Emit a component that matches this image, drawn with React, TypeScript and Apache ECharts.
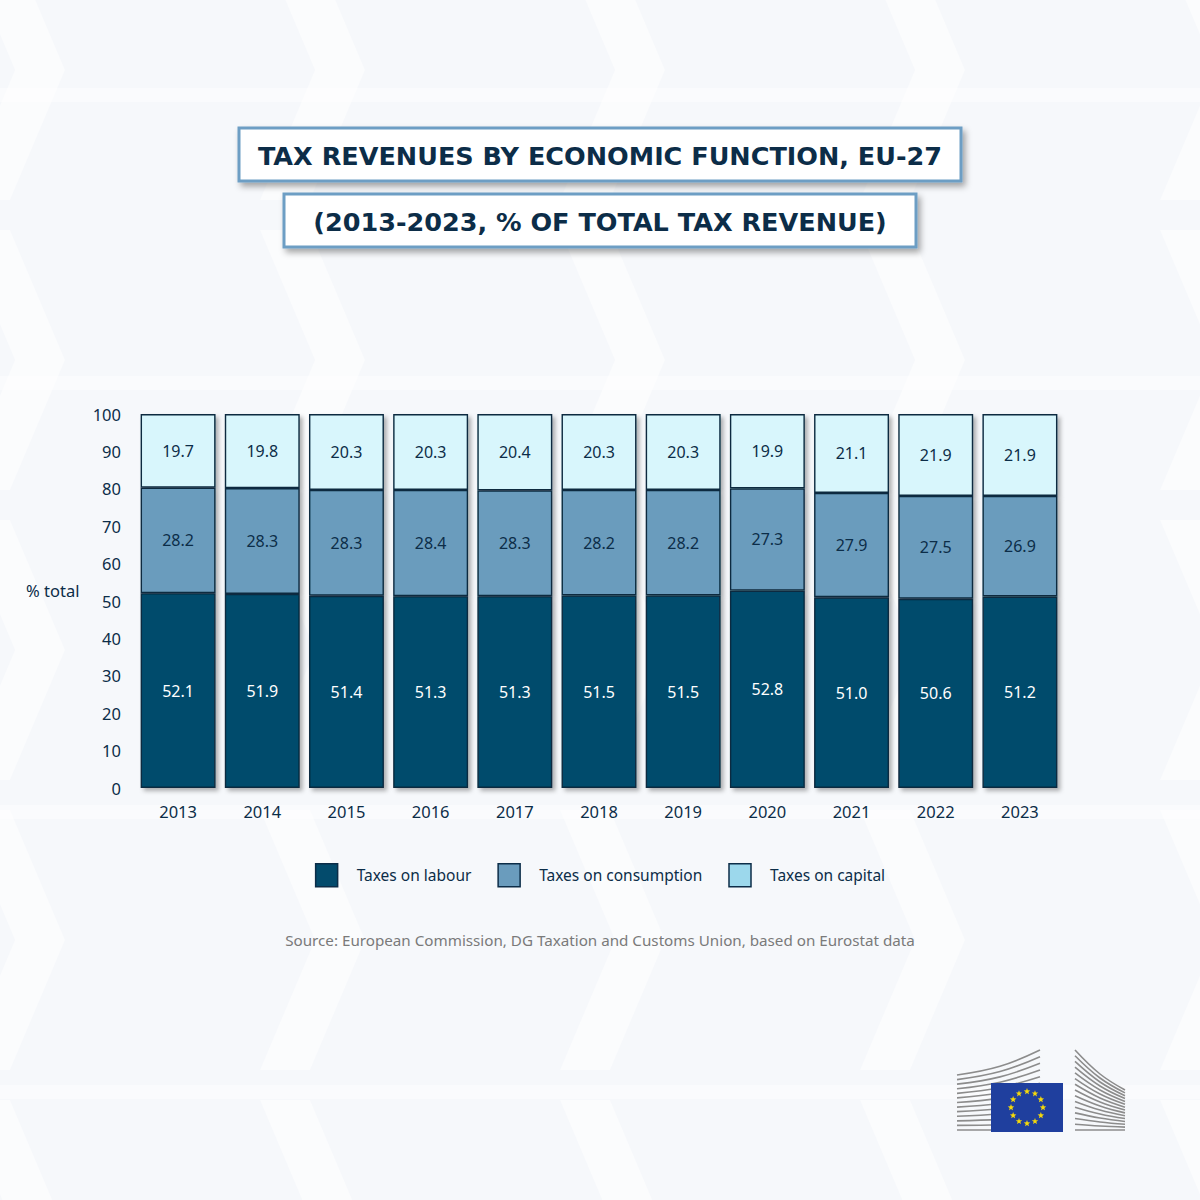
import React, { useEffect, useRef } from "react";
import * as echarts from "echarts";

const years = ["2013", "2014", "2015", "2016", "2017", "2018", "2019", "2020", "2021", "2022", "2023"];
const labour = [52.1, 51.9, 51.4, 51.3, 51.3, 51.5, 51.5, 52.8, 51.0, 50.6, 51.2];
const consumption = [28.2, 28.3, 28.3, 28.4, 28.3, 28.2, 28.2, 27.3, 27.9, 27.5, 26.9];
const capital = [19.7, 19.8, 20.3, 20.3, 20.4, 20.3, 20.3, 19.9, 21.1, 21.9, 21.9];
const seriesNames = ["Taxes on labour", "Taxes on consumption", "Taxes on capital"];
const titleLine1 = "TAX REVENUES BY ECONOMIC FUNCTION, EU-27";
const titleLine2 = "(2013-2023, % OF TOTAL TAX REVENUE)";
const sourceText = "Source: European Commission, DG Taxation and Customs Union, based on Eurostat data";

const DARK = "#0c2d48";
const FONT = "'Noto Sans', 'Open Sans', sans-serif";

function starPoints(cx: number, cy: number, r: number) {
  const pts: number[][] = [];
  for (let i = 0; i < 10; i++) {
    const a = -Math.PI / 2 + (i * Math.PI) / 5;
    const rr = i % 2 === 0 ? r : r * 0.42;
    pts.push([cx + rr * Math.cos(a), cy + rr * Math.sin(a)]);
  }
  return pts;
}

function buildLogo() {
  const els: any[] = [];
  const n = 13;
  for (let i = 0; i < n; i++) {
    const t = i / (n - 1);
    const yL = 1130 - t * 55;
    const yR = 1130 - t * 80;
    const yM = yL + (yR - yL) * 0.35;
    els.push({
      type: "polyline",
      shape: { points: [[957, yL], [1000, yM], [1040, yR]], smooth: 0.4 },
      style: { stroke: "#8c8c8c", lineWidth: 1.6, fill: "none" },
      z: 10,
    });
  }
  for (let i = 0; i < 15; i++) {
    const t = i / 14;
    const yL = 1130 - t * 80;
    const yR = 1130 - t * 40;
    els.push({
      type: "polyline",
      shape: { points: [[1075, yL], [1100, yL + (yR - yL) * 0.6], [1125, yR]], smooth: 0.4 },
      style: { stroke: "#8c8c8c", lineWidth: 1.6, fill: "none" },
      z: 10,
    });
  }
  els.push({
    type: "rect",
    shape: { x: 991, y: 1083, width: 72, height: 49 },
    style: { fill: "#1f3f9e" },
    z: 11,
  });
  for (let k = 0; k < 12; k++) {
    const a = (k * Math.PI) / 6;
    const cx = 1027 + 16 * Math.cos(a);
    const cy = 1107.5 + 16 * Math.sin(a);
    els.push({
      type: "polygon",
      shape: { points: starPoints(cx, cy, 3.4) },
      style: { fill: "#f5d90a" },
      z: 12,
    });
  }
  return els;
}

function buildBackground() {
  const els: any[] = [];
  const cols = [-40, 260, 560, 860, 1160];
  const rows = [-60, 230, 520, 810, 1100];
  cols.forEach((x) => {
    rows.forEach((y) => {
      els.push({
        type: "polygon",
        shape: {
          points: [
            [x, y],
            [x + 50, y],
            [x + 105, y + 130],
            [x + 50, y + 260],
            [x, y + 260],
            [x + 55, y + 130],
          ],
        },
        style: { fill: "#ffffff", opacity: 0.5 },
        z: -10,
        silent: true,
      });
    });
  });
  [88, 376, 805, 1085].forEach((y) => {
    els.push({
      type: "rect",
      shape: { x: 0, y, width: 1200, height: 14 },
      style: { fill: "#ffffff", opacity: 0.45 },
      z: -10,
      silent: true,
    });
  });
  return els;
}

function titleBox(x: number, y: number, w: number, h: number, text: string) {
  return {
    type: "group",
    z: 20,
    children: [
      {
        type: "rect",
        shape: { x, y, width: w, height: h },
        style: {
          fill: "#ffffff",
          stroke: "#6d9ec4",
          lineWidth: 3,
          shadowBlur: 6,
          shadowOffsetX: 3,
          shadowOffsetY: 4,
          shadowColor: "rgba(0,0,0,0.35)",
        },
      },
      {
        type: "text",
        x: x + w / 2,
        y: y + h / 2 + 1,
        style: {
          text,
          fill: DARK,
          font: `bold 25.5px 'DejaVu Sans', 'Noto Sans', sans-serif`,
          align: "center",
          verticalAlign: "middle",
        },
      },
    ],
  };
}

export default function App() {
  const ref = useRef<HTMLDivElement>(null);
  useEffect(() => {
    if (!ref.current) return;
    const chart = echarts.init(ref.current, null, { renderer: "svg" });
    const shadow = {
      shadowBlur: 4,
      shadowOffsetX: 3,
      shadowOffsetY: 3,
      shadowColor: "rgba(0,0,0,0.3)",
    };
    const colors = ["#034b6c", "#6a9cbd", "#d8f6fc"];
    const legendColors = ["#034b6c", "#6a9cbd", "#9cd8ec"];
    const datas = [labour, consumption, capital];
    const option: any = {
      animation: false,
      backgroundColor: "#f6f8fb",
      textStyle: { fontFamily: FONT },
      grid: { left: 136, right: 138, top: 414, bottom: 412, containLabel: false },
      legend: {
        top: 858,
        left: "center",
        icon: "rect",
        itemWidth: 22,
        itemHeight: 23,
        itemGap: 26,
        textStyle: { color: DARK, fontSize: 15.5, fontFamily: FONT, padding: [0, 0, 0, 14] },
        data: seriesNames.map((n, i) => ({
          name: n,
          itemStyle: { color: legendColors[i], borderColor: DARK, borderWidth: 1.5 },
        })),
      },
      xAxis: {
        type: "category",
        data: years,
        axisLine: { show: false },
        axisTick: { show: false },
        axisLabel: { color: DARK, fontSize: 16.5, margin: 15, fontFamily: FONT },
      },
      yAxis: {
        type: "value",
        min: 0,
        max: 100,
        interval: 10,
        splitLine: { show: false },
        axisLine: { show: false },
        axisTick: { show: false },
        axisLabel: { color: DARK, fontSize: 16.5, margin: 15, fontFamily: FONT },
      },
      series: seriesNames.map((name, i) => ({
        name,
        type: "bar",
        stack: "total",
        z: 5 - i,
        barCategoryGap: "11%",
        data: datas[i],
        itemStyle: {
          color: colors[i],
          borderColor: "#0a2a3f",
          borderWidth: 1.4,
          ...shadow,
        },
        label: {
          show: true,
          position: "inside",
          color: i === 0 ? "#ffffff" : DARK,
          fontSize: 16,
          fontFamily: FONT,
          formatter: (p: any) => Number(p.value).toFixed(1),
        },
      })),
      graphic: [
        ...buildBackground(),
        titleBox(239, 128, 722, 53, titleLine1),
        titleBox(284, 194, 632, 53, titleLine2),
        {
          type: "text",
          x: 26,
          y: 590,
          style: {
            text: "% total",
            fill: DARK,
            font: `16.5px ${FONT}`,
            verticalAlign: "middle",
          },
        },
        {
          type: "text",
          x: 600,
          y: 940,
          style: {
            text: sourceText,
            fill: "#7a7a7a",
            font: `15.2px ${FONT}`,
            align: "center",
            verticalAlign: "middle",
          },
        },
        ...buildLogo(),
      ],
    };
    chart.setOption(option);
    return () => chart.dispose();
  }, []);
  return (
    <div
      ref={ref}
      style={{ position: "fixed", left: 0, top: 0, width: 1200, height: 1200 }}
    />
  );
}
